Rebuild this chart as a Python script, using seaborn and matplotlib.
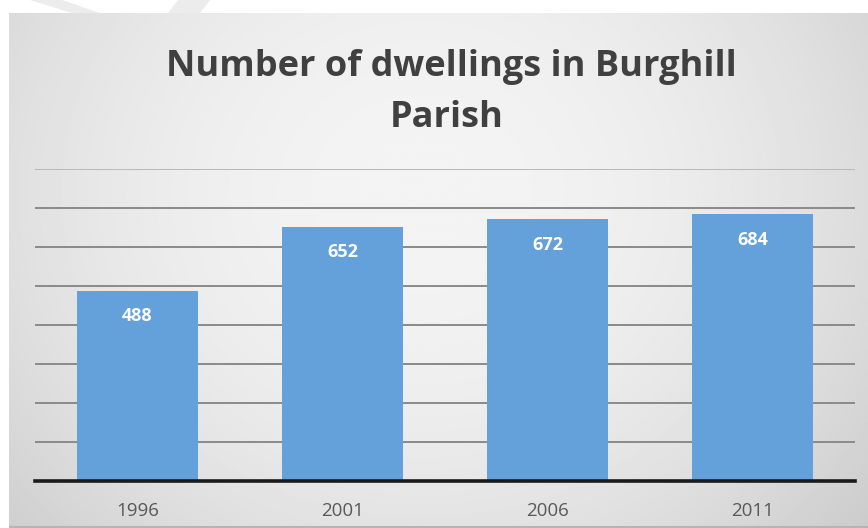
import numpy as np
import pandas as pd
import matplotlib
matplotlib.use("Agg")
import matplotlib.pyplot as plt
from matplotlib.patches import Polygon
import seaborn as sns

# ---- data ----
years = ["1996", "2001", "2006", "2011"]
dwellings = [488, 652, 672, 684]
title_lines = ["Number of dwellings in Burghill", "Parish"]

df = pd.DataFrame({"year": years, "dwellings": dwellings})

sns.set_theme(style="white")
plt.rcParams["font.family"] = ["Open Sans", "DejaVu Sans"]

W, H = 868, 528
fig = plt.figure(figsize=(W / 100, H / 100), dpi=100, facecolor="white")

# faint watermark strokes in the white top strip
for pts in ([(30, 0), (62, 0), (100, 13), (72, 13)],
            [(178, 0), (210, 0), (200, 13), (168, 13)]):
    fig.patches.append(Polygon([(x / W, 1 - y / H) for x, y in pts], closed=True,
                               transform=fig.transFigure, facecolor="#ececec",
                               edgecolor="none", zorder=0))

# slide background with soft radial gradient
bg = fig.add_axes([9 / W, 0, 1 - 9 / W, (H - 13) / H], zorder=0)
yy, xx = np.mgrid[0:1:300j, 0:1:500j]
r2 = ((xx - 0.48) / 0.8) ** 2 + ((yy - 0.35) / 1.2) ** 2
img = np.clip(0.955 - 0.22 * r2, 0.8, 0.96)
bg.imshow(img, cmap="gray", vmin=0, vmax=1, aspect="auto", extent=(0, 1, 1, 0))
bg.plot([0, 1], [0.002, 0.002], color="#b5b5b5", lw=1.5, transform=bg.transAxes)
bg.set_axis_off()

# main chart axes
ax = fig.add_axes([35 / W, (H - 481) / H, 820 / W, 312 / H], zorder=1)
ax.patch.set_alpha(0)
sns.barplot(data=df, x="year", y="dwellings", color="#64a0da", width=0.595,
            saturation=1, linewidth=0, ax=ax, zorder=2)
ax.set_xlim(-0.5, 3.5)
ax.set_ylim(0, 800)
ax.set_yticks(np.arange(100, 801, 100))
ax.yaxis.grid(True, color="#8a8a8a", lw=1.4)
ax.get_ygridlines()[-1].set_color("#b8b8b8")
ax.set_axisbelow(True)
ax.tick_params(axis="y", left=False, labelleft=False)
ax.tick_params(axis="x", bottom=False, labelsize=13.5, labelcolor="#595959", pad=9)
ax.set_xlabel("")
ax.set_ylabel("")
for s in ["top", "right", "left"]:
    ax.spines[s].set_visible(False)
ax.spines["bottom"].set_color("#1a1a1a")
ax.spines["bottom"].set_linewidth(2.6)

for i, v in enumerate(dwellings):
    ax.annotate(f"{v}", xy=(i, v), xytext=(0, -18.5), textcoords="offset points",
                ha="center", va="center", color="white", fontsize=13,
                fontweight="bold", zorder=3)

for line, xc, base in zip(title_lines, [451, 447], [76, 127]):
    fig.text(xc / W, 1 - base / H, line, ha="center", va="baseline", fontsize=26,
             fontweight="bold", color="#404040")

fig.savefig("out.png", dpi=100, facecolor="white")
